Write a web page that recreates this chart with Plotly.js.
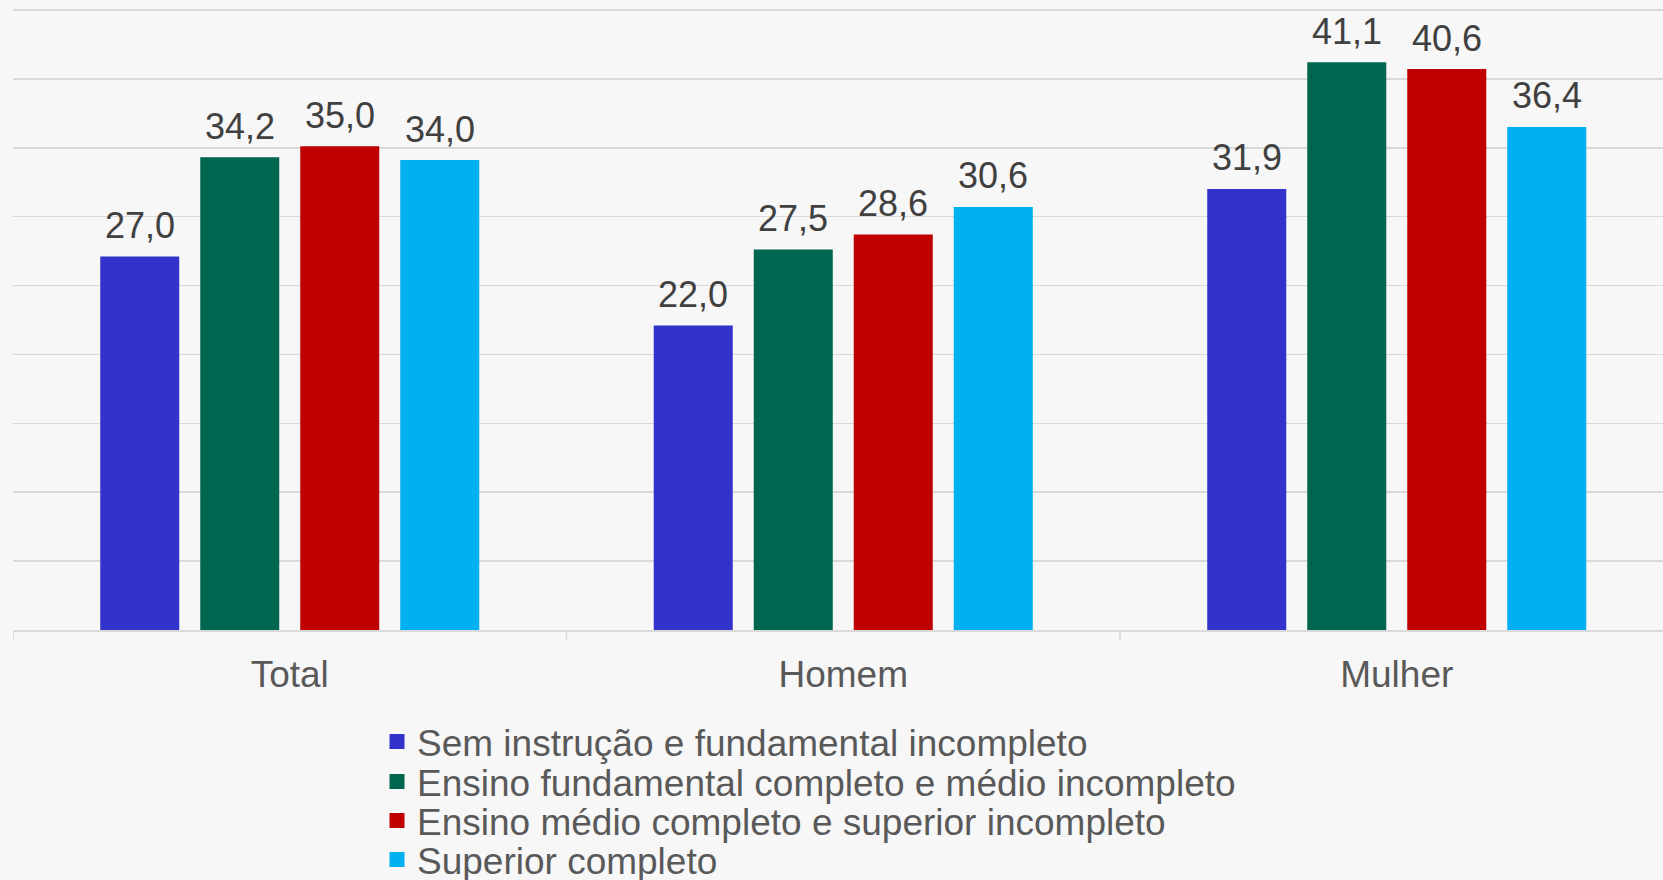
<!DOCTYPE html>
<html><head><meta charset="utf-8">
<script src="https://cdn.plot.ly/plotly-3.0.1.min.js"></script>
<style>html,body{margin:0;padding:0;background:#F7F7F7;}#chart{width:1663px;height:880px;}</style>
</head><body><div id="chart"></div>
<script>
const categories = ['Total', 'Homem', 'Mulher'];
const seriesNames = [
  'Sem instrução e fundamental incompleto',
  'Ensino fundamental completo e médio incompleto',
  'Ensino médio completo e superior incompleto',
  'Superior completo'
];
const semInstrucao = [27.0, 22.0, 31.9];
const fundamentalCompleto = [34.2, 27.5, 41.1];
const medioCompleto = [35.0, 28.6, 40.6];
const superiorCompleto = [34.0, 30.6, 36.4];
const yTicks = [0, 5, 10, 15, 20, 25, 30, 35, 40, 45];

const series = [semInstrucao, fundamentalCompleto, medioCompleto, superiorCompleto];
const colors = ['#3333CC', '#00664F', '#C00000', '#00B0F0'];
const legendIds = ['legend', 'legend2', 'legend3', 'legend4'];
const legendCenters = [742, 782, 821, 860];
const W = 1663, H = 880;
const bargap = 0.2773, bargroupgap = 0.24, lineW = 3;
const fmt = v => v.toFixed(1).replace('.', ',');

const traces = series.map((vals, j) => ({
  type: 'bar',
  name: seriesNames[j],
  x: categories.map((c, i) => i),
  y: vals,
  marker: {color: colors[j], line: {color: colors[j], width: lineW}},
  legend: legendIds[j],
  hoverinfo: 'skip'
}));

const slot = (1 - bargap) / series.length;
const annotations = [];
series.forEach((vals, j) => {
  vals.forEach((v, i) => {
    annotations.push({
      x: i + (j - (series.length - 1) / 2) * slot,
      y: v, xref: 'x', yref: 'y',
      text: fmt(v), showarrow: false,
      yanchor: 'bottom', yshift: 10,
      font: {family: 'Liberation Sans, Arial, sans-serif', size: 36, color: '#404040'}
    });
  });
});

const plotH = H - 0 - 250;
const layout = {
  width: W, height: H,
  margin: {l: 13, r: 0, t: 0, b: 250, autoexpand: false},
  paper_bgcolor: '#F7F7F7', plot_bgcolor: '#F7F7F7',
  font: {family: 'Liberation Sans, Arial, sans-serif', color: '#595959'},
  barmode: 'group', bargap: bargap, bargroupgap: bargroupgap,
  xaxis: {
    type: 'linear',
    range: [-0.5, -0.5 + (W - 13) / 553.5],
    tickmode: 'array', tickvals: categories.map((c, i) => i), ticktext: categories,
    showgrid: false, zeroline: false,
    showline: true, linecolor: '#D9D9D9', linewidth: 1.5,
    ticks: '', tickfont: {size: 37, color: '#595959'},
    ticklabelstandoff: 11, automargin: false
  },
  yaxis: {
    range: [0, 45 * plotH / 620], tickmode: 'array', tickvals: yTicks,
    showticklabels: false, showgrid: true, gridcolor: '#D9D9D9', gridwidth: 1.5,
    zeroline: false, showline: false, fixedrange: true, automargin: false
  },
  shapes: [-0.5, 0.5, 1.5].map(b => ({
    type: 'line', xref: 'x', yref: 'paper', x0: b, x1: b, y0: 0, y1: -10 / plotH,
    line: {color: '#D9D9D9', width: 1.5}
  })),
  annotations: annotations,
  showlegend: true
};
legendIds.forEach((id, j) => {
  layout[id] = {
    xref: 'container', yref: 'container',
    x: 377 / W, xanchor: 'left',
    y: 1 - legendCenters[j] / H, yanchor: 'middle',
    bgcolor: 'rgba(0,0,0,0)', borderwidth: 0,
    font: {size: 37, color: '#595959'},
    itemclick: false, itemdoubleclick: false
  };
});

Plotly.newPlot('chart', traces, layout, {displayModeBar: false, staticPlot: true});
</script>
</body></html>
